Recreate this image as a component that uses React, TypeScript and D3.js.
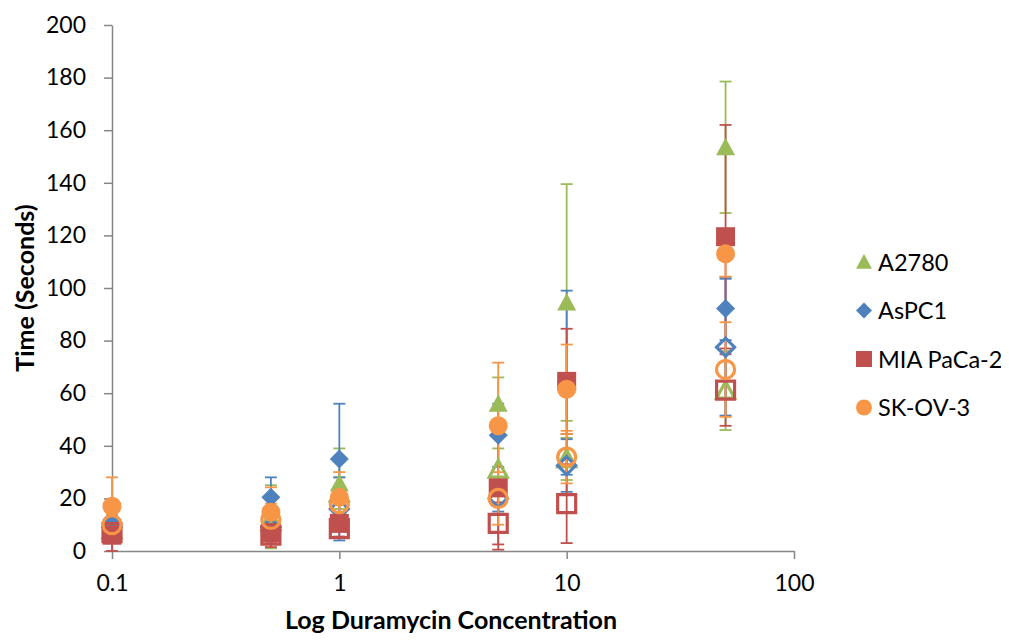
import React, { useEffect, useRef } from 'react';
import * as d3 from 'd3';

// Duramycin concentrations (x) for every series
const concentrations = [0.1, 0.5, 1, 5, 10, 50];

// filled markers (shown in legend) and open markers (no legend entry)
const a2780 = [9, 13, 25.7, 56, 94.5, 153.5];
const a2780Err = [3, 12, 13.3, 10, 45, 25];
const a2780Open = [8, 11, 22, 31, 35, 61];
const a2780OpenErr = [3, 5, 6, 8, 8, 15];

const aspc1 = [12, 20.4, 35, 44, 64, 92.2];
const aspc1Err = [2, 7.6, 21, 12, 35, 12];
const aspc1Open = [9, 9, 16, 20, 32.5, 77.5];
const aspc1OpenErr = [2, 6.4, 12, 5, 10, 26];

const mia = [6, 7, 10.5, 24, 64.5, 119.5];
const miaErr = [6, 5.5, 3, 23.5, 20, 42.5];
const miaOpen = [7, 6, 8.5, 10.5, 18, 61.2];
const miaOpenErr = [3, 3, 3, 8, 15, 13.6];

const skov3 = [17, 14.7, 20.4, 47.6, 61.5, 113];
const skov3Err = [11, 9.5, 9.6, 24, 17, 8.7];
const skov3Open = [10, 12, 18, 20, 35.7, 69];
const skov3OpenErr = [4, 6, 6, 10, 10, 18];

const xTicks = [0.1, 1, 10, 100];
const yTicks = [0, 20, 40, 60, 80, 100, 120, 140, 160, 180, 200];

const series = [
  { name: 'A2780', values: a2780, err: a2780Err, color: '#9BBB59', shape: 'triangle', open: false, legend: true },
  { name: 'A2780 open', values: a2780Open, err: a2780OpenErr, color: '#9BBB59', shape: 'triangle', open: true, legend: false },
  { name: 'AsPC1', values: aspc1, err: aspc1Err, color: '#4F81BD', shape: 'diamond', open: false, legend: true },
  { name: 'AsPC1 open', values: aspc1Open, err: aspc1OpenErr, color: '#4F81BD', shape: 'diamond', open: true, legend: false },
  { name: 'MIA PaCa-2', values: mia, err: miaErr, color: '#C0504D', shape: 'square', open: false, legend: true },
  { name: 'MIA PaCa-2 open', values: miaOpen, err: miaOpenErr, color: '#C0504D', shape: 'square', open: true, legend: false },
  { name: 'SK-OV-3', values: skov3, err: skov3Err, color: '#F79646', shape: 'circle', open: false, legend: true },
  { name: 'SK-OV-3 open', values: skov3Open, err: skov3OpenErr, color: '#F79646', shape: 'circle', open: true, legend: false },
];

const FONT = 'Lato, "Open Sans", sans-serif';
const AXIS = '#868686';

function markerPath(shape: string, s: number) {
  // s = outer size in px
  const h = s / 2;
  if (shape === 'triangle') return `M0,${-h}L${h},${h * 0.85}L${-h},${h * 0.85}Z`;
  if (shape === 'diamond') return `M0,${-h}L${h},0L0,${h}L${-h},0Z`;
  if (shape === 'square') return `M${-h},${-h}H${h}V${h}H${-h}Z`;
  return d3.arc()({ innerRadius: 0, outerRadius: h, startAngle: 0, endAngle: Math.PI * 2 }) as string;
}

const App = () => {
  const ref = useRef<SVGSVGElement | null>(null);

  useEffect(() => {
    const svg = d3.select(ref.current);
    svg.selectAll('*').remove();

    const x = d3.scaleLog().domain([0.1, 100]).range([112, 794]);
    const y = d3.scaleLinear().domain([0, 200]).range([551, 25]);

    // Y axis
    const gy = svg
      .append('g')
      .attr('transform', 'translate(112,0)')
      .call(d3.axisLeft(y).tickValues(yTicks).tickSize(8).tickSizeOuter(0).tickPadding(18));
    gy.select('.domain').attr('stroke', AXIS).attr('stroke-width', 1.5);
    gy.selectAll('.tick line').attr('stroke', AXIS).attr('stroke-width', 1.5);
    gy.selectAll('.tick text').attr('fill', '#000').style('font', `23px ${FONT}`);

    // X axis
    const gx = svg
      .append('g')
      .attr('transform', 'translate(0,551)')
      .call(
        d3
          .axisBottom(x)
          .tickValues(xTicks)
          .tickFormat((d) => String(d))
          .tickSize(8)
          .tickSizeOuter(0)
          .tickPadding(16),
      );
    gx.select('.domain').attr('stroke', AXIS).attr('stroke-width', 1.5);
    gx.selectAll('.tick line').attr('stroke', AXIS).attr('stroke-width', 1.5);
    gx.selectAll('.tick text').attr('fill', '#000').style('font', `23px ${FONT}`);

    // axis titles
    svg
      .append('text')
      .attr('transform', `translate(34,${(y(0) + y(200)) / 2}) rotate(-90)`)
      .attr('text-anchor', 'middle')
      .style('font', `bold 25px ${FONT}`)
      .text('Time (Seconds)');
    svg
      .append('text')
      .attr('x', 451)
      .attr('y', 629)
      .attr('text-anchor', 'middle')
      .style('font', `bold 25px ${FONT}`)
      .text('Log Duramycin Concentration');

    // error bars under all markers
    const bars = svg.append('g');
    series.forEach((s) => {
      s.values.forEach((v, i) => {
        const cx = x(concentrations[i]);
        const top = y(v + s.err[i]);
        const bot = y(Math.max(0, v - s.err[i]));
        const g = bars.append('g').attr('stroke', s.color).attr('stroke-width', 1.8);
        g.append('line').attr('x1', cx).attr('x2', cx).attr('y1', top).attr('y2', bot);
        g.append('line').attr('x1', cx - 6).attr('x2', cx + 6).attr('y1', top).attr('y2', top);
        g.append('line').attr('x1', cx - 6).attr('x2', cx + 6).attr('y1', bot).attr('y2', bot);
      });
    });

    // markers
    series.forEach((s) => {
      const size = s.open ? 18 : 19;
      svg
        .append('g')
        .selectAll('path')
        .data(s.values)
        .join('path')
        .attr('transform', (d, i) => `translate(${x(concentrations[i])},${y(d)})`)
        .attr('d', markerPath(s.shape, size))
        .attr('fill', s.open ? 'none' : s.color)
        .attr('stroke', s.open ? s.color : 'none')
        .attr('stroke-width', s.open ? 3.2 : 0);
    });

    // legend
    const legendItems = series.filter((s) => s.legend);
    const lg = svg
      .append('g')
      .selectAll('g')
      .data(legendItems)
      .join('g')
      .attr('transform', (d, i) => `translate(864,${262 + i * 48.5})`);
    lg.append('path')
      .attr('d', (d) => markerPath(d.shape, 16))
      .attr('fill', (d) => d.color);
    lg.append('text')
      .attr('x', 14)
      .attr('y', 8.5)
      .style('font', `23.5px ${FONT}`)
      .text((d) => d.name);
  }, []);

  return (
    <div style={{ width: 1009, height: 642, margin: -8 }}>
      <svg ref={ref} width={1009} height={642} style={{ display: 'block', background: '#fff' }} />
    </div>
  );
};

export default App;
